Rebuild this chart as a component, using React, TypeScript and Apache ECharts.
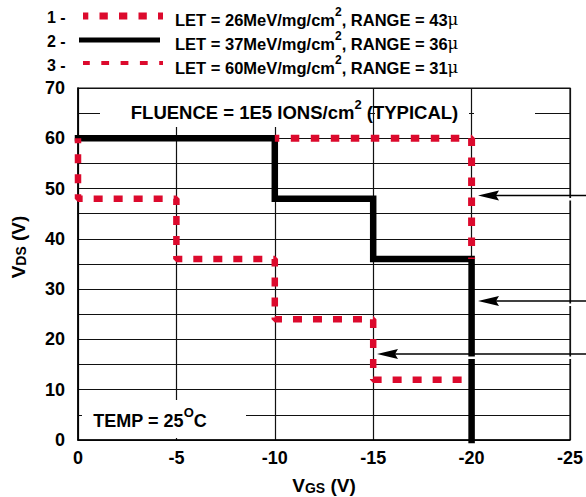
import React, { useEffect, useRef } from 'react';
import * as echarts from 'echarts';

// ---- data ----
const xTickValues = [0, -5, -10, -15, -20, -25];
const yLabelValues = [0, 10, 20, 30, 40, 50, 60, 70];
const let26Curve: number[][] = [[-10, 60], [-20, 60], [-20, 36]];
const let37Curve: number[][] = [[0, 60], [-10, 60], [-10, 48], [-15, 48], [-15, 36], [-20, 36], [-20, 0]];
const let60Curve: number[][] = [[0, 60], [0, 48], [-5, 48], [-5, 36], [-10, 36], [-10, 24], [-15, 24], [-15, 12], [-20, 12]];
const legendLabels = [
  { num: '1 -', let: '26', range: '43' },
  { num: '2 -', let: '37', range: '36' },
  { num: '3 -', let: '60', range: '31' },
];

const F = '"Liberation Sans", Arial, Helvetica, sans-serif';
const RED = '#dc0a2d';

const supRich = (size: number, lh: number) => ({
  a: { fontSize: size, fontWeight: 'bold', fontFamily: F, fill: '#000', lineHeight: lh, verticalAlign: 'bottom' },
  s: { fontSize: Math.round(size * 0.72), fontWeight: 'bold', fontFamily: F, fill: '#000', lineHeight: 10, verticalAlign: 'top' },
  m: { fontSize: size, fontFamily: '"DejaVu Serif", serif', fill: '#000', lineHeight: lh, verticalAlign: 'bottom' },
  b: { fontSize: size + 1, fontWeight: 'bold', fontFamily: F, fill: '#000', lineHeight: lh, verticalAlign: 'bottom' },
  d: { fontSize: Math.round(size * 0.75), fontWeight: 'bold', fontFamily: F, fill: '#000', lineHeight: 18, verticalAlign: 'bottom' },
});

export default function App() {
  const ref = useRef<HTMLDivElement>(null);
  useEffect(() => {
    if (!ref.current) return;
    const chart = echarts.init(ref.current, undefined, { renderer: 'svg' });
    const legendRowsY = [17, 41, 65];
    const legendGraphics: any[] = [];
    legendLabels.forEach((l, i) => {
      const y = legendRowsY[i];
      legendGraphics.push({
        type: 'text', x: 47, y, z: 30,
        style: { text: l.num, font: `bold 16px ${F}`, fill: '#000', verticalAlign: 'middle', align: 'left' },
      });
      legendGraphics.push({
        type: 'text', x: 175, y, z: 30,
        style: {
          text: `{a|LET = ${l.let}MeV/mg/cm}{s|2}{a|, RANGE = ${l.range}}{m|μ}`,
          rich: supRich(16.5, 22), verticalAlign: 'middle', align: 'left',
        },
      });
    });
    legendGraphics.push({ type: 'line', z: 30, shape: { x1: 83, y1: 16, x2: 163, y2: 16 }, style: { stroke: RED, lineWidth: 7, lineDash: [8.3, 11.2], lineDashOffset: 2.5 } });
    legendGraphics.push({ type: 'line', z: 30, shape: { x1: 79, y1: 40, x2: 160, y2: 40 }, style: { stroke: '#000', lineWidth: 5 } });
    legendGraphics.push({ type: 'line', z: 30, shape: { x1: 83, y1: 63, x2: 163, y2: 63 }, style: { stroke: RED, lineWidth: 4, lineDash: [7.8, 11.5], lineDashOffset: 1 } });

    const masks = [
      { x: 100, y: 89, width: 268, height: 38 },
      { x: 375, y: 106, width: 94, height: 14 },
      { x: 474, y: 106, width: 61, height: 14 },
      { x: 82, y: 400, width: 164, height: 38 },
    ].map((s) => ({ type: 'rect', z: 25, shape: s, style: { fill: '#fff' } }));

    const arrows = [
      { tip: 478, y: 195.5 },
      { tip: 478, y: 301 },
      { tip: 377, y: 354 },
    ];
    const arrowGraphics: any[] = [];
    arrows.forEach((a) => {
      arrowGraphics.push({ type: 'rect', z: 26, shape: { x: a.tip + 18, y: a.y + 2.5, width: 586 - a.tip, height: 2.5 }, style: { fill: '#fff' } });
      arrowGraphics.push({ type: 'line', z: 27, shape: { x1: a.tip + 16, y1: a.y, x2: 586, y2: a.y }, style: { stroke: '#000', lineWidth: 1.3 } });
      arrowGraphics.push({ type: 'polygon', z: 27, shape: { points: [[a.tip, a.y], [a.tip + 21, a.y - 5], [a.tip + 18, a.y], [a.tip + 21, a.y + 5]] }, style: { fill: '#000' } });
    });

    const texts = [
      {
        type: 'text', z: 30, x: 294.5, y: 109.5,
        style: { text: '{a|FLUENCE = 1E5 IONS/cm}{s|2}{a| (TYPICAL)}', rich: supRich(18.5, 24), align: 'center', verticalAlign: 'middle' },
      },
      {
        type: 'text', z: 30, x: 150, y: 418,
        style: { text: '{a|TEMP = 25}{s|O}{a|C}', rich: supRich(18, 24), align: 'center', verticalAlign: 'middle' },
      },
      {
        type: 'text', z: 30, x: 324, y: 484,
        style: { text: '{b|V}{d|GS}{b| (V)}', rich: supRich(18, 22), align: 'center', verticalAlign: 'middle' },
      },
      {
        type: 'text', z: 30, x: 17, y: 247, rotation: Math.PI / 2,
        style: { text: '{b|V}{d|DS}{b| (V)}', rich: supRich(18, 22), align: 'center', verticalAlign: 'middle' },
      },
    ];

    const option: any = {
      animation: false,
      backgroundColor: '#fff',
      grid: { left: 78, right: 16, top: 88, bottom: 57, show: true, borderColor: '#111', borderWidth: 1.2, backgroundColor: 'transparent' },
      xAxis: {
        type: 'value', min: -25, max: 0, interval: 5, inverse: true,
        axisLine: { show: true, onZero: false, lineStyle: { color: '#000', width: 1.6 } },
        axisTick: { show: false },
        axisLabel: {
          color: '#000', fontSize: 18, fontWeight: 'bold', fontFamily: F, margin: 9, showMaxLabel: true, showMinLabel: true,
          formatter: (v: number) => (xTickValues.includes(v) ? String(v) : ''),
        },
        splitLine: { show: true, lineStyle: { color: '#111', width: 1.2 } },
      },
      yAxis: {
        type: 'value', min: 0, max: 70, interval: 5,
        axisLine: { show: true, onZero: false, lineStyle: { color: '#000', width: 1.6 } },
        axisTick: { show: false },
        axisLabel: {
          color: '#000', fontSize: 18, fontWeight: 'bold', fontFamily: F, margin: 13,
          formatter: (v: number) => (yLabelValues.includes(v) ? String(v) : ''),
        },
        splitLine: { show: true, lineStyle: { color: '#111', width: 1.2 } },
      },
      series: [
        {
          type: 'line', name: 'LET 37', data: let37Curve, symbol: 'none', clip: false, z: 2,
          lineStyle: { color: '#000', width: 6.5, cap: 'square', join: 'miter' },
        },
        {
          type: 'line', name: 'LET 26', data: let26Curve, symbol: 'none', clip: false, z: 3,
          lineStyle: { color: RED, width: 7, type: [8.5, 11.5], dashOffset: 4, cap: 'butt' },
        },
        {
          type: 'line', name: 'LET 60', data: let60Curve, symbol: 'none', clip: false, z: 3,
          lineStyle: { color: RED, width: 6.5, type: [9, 11], dashOffset: 4, cap: 'butt' },
        },
      ],
      graphic: { elements: [...masks, ...legendGraphics, ...texts, ...arrowGraphics] },
    };
    chart.setOption(option);
    return () => chart.dispose();
  }, []);
  return <div ref={ref} style={{ width: 586, height: 497, position: 'absolute', left: 0, top: 0 }} />;
}
